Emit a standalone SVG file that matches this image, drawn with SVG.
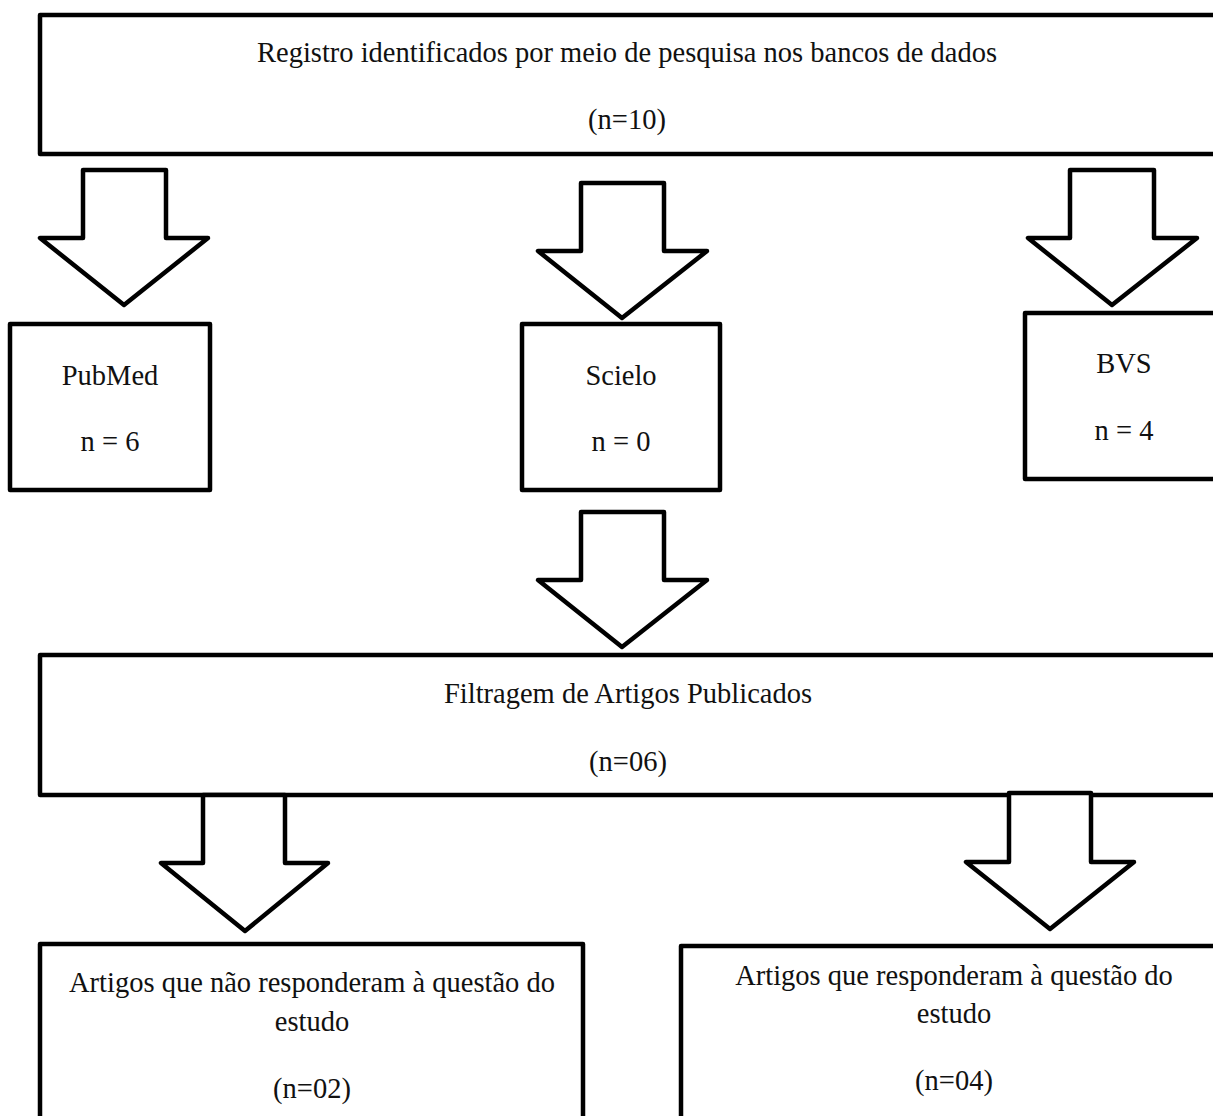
<svg xmlns="http://www.w3.org/2000/svg" width="1213" height="1116" viewBox="0 0 1213 1116">
<style>
.box{fill:#fff;stroke:#000;stroke-width:4.5;stroke-linejoin:round}
.arr{fill:#fff;stroke:#000;stroke-width:4.5;stroke-linejoin:round}
text{font-family:"Liberation Serif","Times New Roman",serif;font-size:28.5px;fill:#111;text-anchor:middle}
</style>
<rect width="1213" height="1116" fill="#fff"/>
<g id="registro">
<rect class="box" x="40" y="15" width="1190" height="139"/>
<text x="627" y="62">Registro identificados por meio de pesquisa nos bancos de dados</text>
<text x="627" y="129">(n=10)</text>
</g>
<g id="pubmed">
<rect class="box" x="10" y="324" width="200" height="166"/>
<text x="110" y="385">PubMed</text>
<text x="110" y="451">n = 6</text>
</g>
<g id="scielo">
<rect class="box" x="522" y="324" width="198" height="166"/>
<text x="621" y="385">Scielo</text>
<text x="621" y="451">n = 0</text>
</g>
<g id="bvs">
<rect class="box" x="1025" y="313" width="205" height="166"/>
<text x="1124" y="373">BVS</text>
<text x="1124" y="440">n = 4</text>
</g>
<g id="filtragem">
<rect class="box" x="40" y="655" width="1190" height="140"/>
<text x="628" y="703">Filtragem de Artigos Publicados</text>
<text x="628" y="771">(n=06)</text>
</g>
<g id="nao-responderam">
<rect class="box" x="40" y="944" width="543" height="200"/>
<text x="312" y="992">Artigos que não responderam à questão do</text>
<text x="312" y="1031">estudo</text>
<text x="312" y="1098">(n=02)</text>
</g>
<g id="responderam">
<rect class="box" x="681" y="946" width="560" height="200"/>
<text x="954" y="985">Artigos que responderam à questão do</text>
<text x="954" y="1023">estudo</text>
<text x="954" y="1090">(n=04)</text>
</g>
<g id="connectors">
<polygon class="arr" points="83,170 166,170 166,238 208,238 124,305 40,238 83,238"/>
<polygon class="arr" points="581,183 664,183 664,251 707,251 622,318 538,251 581,251"/>
<polygon class="arr" points="1070,170 1154,170 1154,238 1197,238 1112,305 1028,238 1070,238"/>
<polygon class="arr" points="581,512 664,512 664,580 707,580 622,647 538,580 581,580"/>
<polygon class="arr" points="203,795 285,795 285,863 328,863 245,931 161,863 203,863"/>
<polygon class="arr" points="1009,793 1091,793 1091,862 1134,862 1050,929 966,862 1009,862"/>
</g>
</svg>
